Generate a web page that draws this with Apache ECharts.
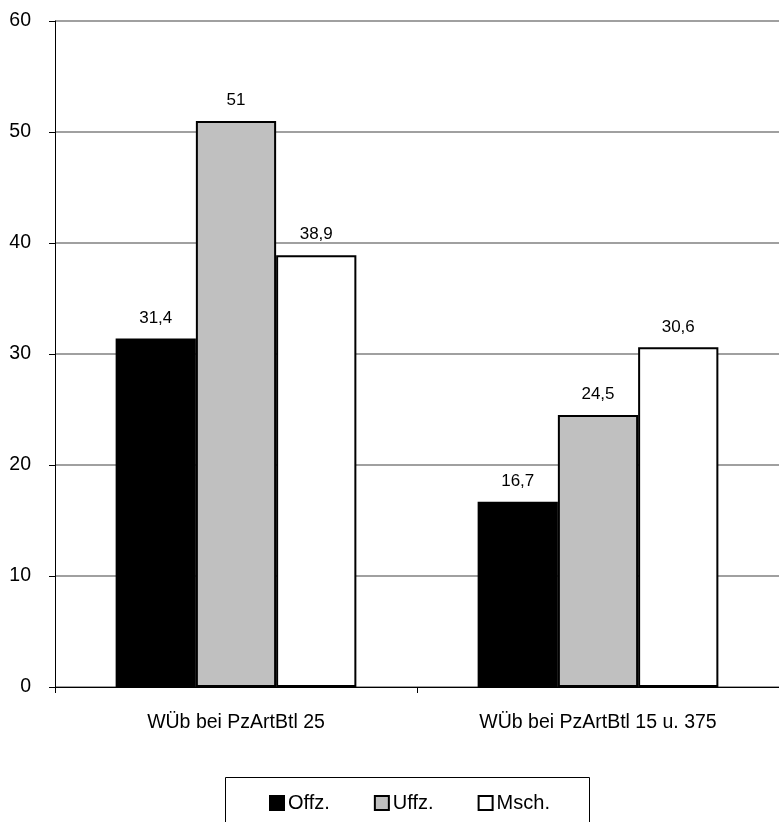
<!DOCTYPE html>
<html><head><meta charset="utf-8">
<script src="https://cdn.jsdelivr.net/npm/echarts@6/dist/echarts.min.js"></script>
<style>html,body{margin:0;padding:0;background:#fff}#c{width:779px;height:822px}</style>
</head><body><div id="c"></div>
<script>
const categories = ["WÜb bei PzArtBtl 25", "WÜb bei PzArtBtl 15 u. 375"];
const seriesNames = ["Offz.", "Uffz.", "Msch."];
const offz = [31.4, 16.7];
const uffz = [51, 24.5];
const msch = [38.9, 30.6];
const yTicks = [0, 10, 20, 30, 40, 50, 60];

const fillColors = ["#000000", "#c0c0c0", "#ffffff"];
const values = [offz, uffz, msch];
const font = "Liberation Sans, Arial, sans-serif";

const chart = echarts.init(document.getElementById('c'), null, {renderer: 'canvas'});
chart.setOption({
  animation: false,
  backgroundColor: '#fff',
  textStyle: {fontFamily: font},
  grid: {left: 55, top: 21, width: 730, height: 666, containLabel: false},
  xAxis: {
    type: 'category', data: categories,
    axisLine: {lineStyle: {color: '#000', width: 1}},
    axisTick: {show: true, alignWithLabel: false, length: 6, lineStyle: {color: '#000'}},
    axisLabel: {color: '#000', fontSize: 19.5, fontFamily: font, margin: 26}
  },
  yAxis: {
    type: 'value', min: yTicks[0], max: yTicks[yTicks.length - 1], interval: 10,
    axisLine: {show: true, lineStyle: {color: '#000', width: 1}},
    axisTick: {show: true, length: 6, lineStyle: {color: '#000'}},
    axisLabel: {color: '#000', fontSize: 19.5, fontFamily: font, margin: 24},
    splitLine: {show: true, lineStyle: {color: '#808080', width: 1.5}}
  },
  legend: {
    left: 264, top: 788, itemGap: 44, itemWidth: 14, itemHeight: 14,
    icon: 'rect',
    textStyle: {color: '#000', fontSize: 20, fontFamily: font, padding: [0, 0, 0, -1]},
    data: seriesNames
  },
  graphic: [{
    type: 'rect', left: 223, top: 775,
    shape: {width: 364, height: 60},
    style: {fill: 'none', stroke: '#000', lineWidth: 1}, z: 100
  }],
  series: seriesNames.map((n, i) => ({
    name: n, type: 'bar', data: values[i],
    barGap: '0%', barCategoryGap: '33.5%',
    itemStyle: {color: fillColors[i], borderColor: '#000', borderWidth: 2},
    label: {
      show: true, position: 'top', distance: 12, color: '#000', fontSize: 17, fontFamily: font,
      formatter: p => String(p.value).replace('.', ',')
    }
  }))
});
</script></body></html>
